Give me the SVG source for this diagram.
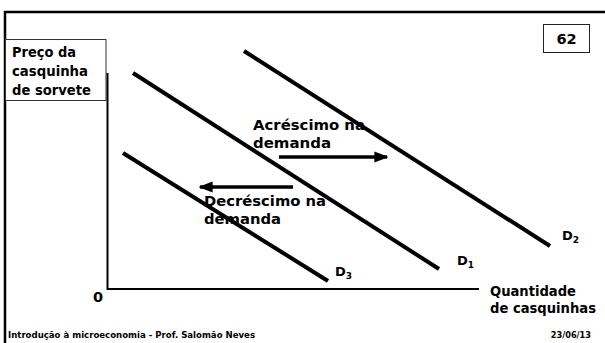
<svg xmlns="http://www.w3.org/2000/svg" width="605" height="343" viewBox="0 0 605 343">
<style>
text{font-family:"DejaVu Sans","Liberation Sans",sans-serif;font-weight:bold;fill:#000}
.lbl{font-size:14px}
.big{font-size:14.5px}
.xl{font-size:13.5px}
.sub{font-size:9px}
.foot{font-size:8.2px}
.demand{stroke:#000;stroke-width:4;fill:none}
.axis{stroke:#000;stroke-width:2;fill:none}
.shift{stroke:#000;stroke-width:3.5;fill:none}
</style>
<defs>
<marker id="ah" markerWidth="4" markerHeight="3.2" refX="3.6" refY="1.6" orient="auto" markerUnits="strokeWidth">
<path d="M0,0 L4,1.6 L0,3.2 Z" fill="#000"/>
</marker>
</defs>
<rect width="605" height="343" fill="#fff"/>
<path d="M5,343 V12 H605" stroke="#000" stroke-width="2.5" fill="none"/>
<g id="page-number">
<rect x="543.5" y="24.5" width="46" height="28" fill="#fff" stroke="#222" stroke-width="1"/>
<text x="566.5" y="44" class="big" text-anchor="middle">62</text>
</g>
<g id="y-label">
<rect x="5.5" y="39.5" width="100.5" height="61" fill="#fff" stroke="#333" stroke-width="1"/>
<text class="lbl" x="12" y="57" textLength="64" lengthAdjust="spacingAndGlyphs">Preço da</text>
<text class="lbl" x="12" y="76" textLength="76" lengthAdjust="spacingAndGlyphs">casquinha</text>
<text class="lbl" x="12" y="95" textLength="79" lengthAdjust="spacingAndGlyphs">de sorvete</text>
</g>
<g id="axes">
<path class="axis" d="M107.5,73 V289 H479"/>
<text x="98" y="302" class="big" text-anchor="middle">0</text>
</g>
<g id="x-label">
<text class="xl" x="490" y="296" textLength="86" lengthAdjust="spacingAndGlyphs">Quantidade</text>
<text class="xl" x="490" y="313" textLength="106" lengthAdjust="spacingAndGlyphs">de casquinhas</text>
</g>
<g id="label-increase">
<text class="big" x="253" y="130" textLength="112" lengthAdjust="spacingAndGlyphs">Acréscimo na</text>
<text class="big" x="253" y="148" textLength="78" lengthAdjust="spacingAndGlyphs">demanda</text>
</g>
<g id="label-decrease">
<text class="big" x="204" y="206" textLength="122" lengthAdjust="spacingAndGlyphs">Decréscimo na</text>
<text class="big" x="204" y="224" textLength="77" lengthAdjust="spacingAndGlyphs">demanda</text>
</g>
<g id="connectors">
<line id="D1" class="demand" x1="133" y1="73" x2="439" y2="269"/>
<line id="D2" class="demand" x1="244" y1="51" x2="550" y2="246"/>
<line id="D3" class="demand" x1="123" y1="153" x2="328" y2="281"/>
<line id="arrow-increase" class="shift" x1="279" y1="157" x2="387" y2="157" marker-end="url(#ah)"/>
<line id="arrow-decrease" class="shift" x1="293" y1="187" x2="200" y2="187" marker-end="url(#ah)"/>
</g>
<g id="curve-labels">
<text x="457" y="265" font-size="13">D<tspan class="sub" dy="3">1</tspan></text>
<text x="562" y="240" font-size="13">D<tspan class="sub" dy="3">2</tspan></text>
<text x="335" y="276" font-size="13">D<tspan class="sub" dy="3">3</tspan></text>
</g>
<g id="footer">
<text class="foot" x="8" y="338" textLength="247" lengthAdjust="spacingAndGlyphs">Introdução à microeconomia - Prof. Salomão Neves</text>
<text class="foot" x="591" y="338" text-anchor="end">23/06/13</text>
</g>
</svg>
